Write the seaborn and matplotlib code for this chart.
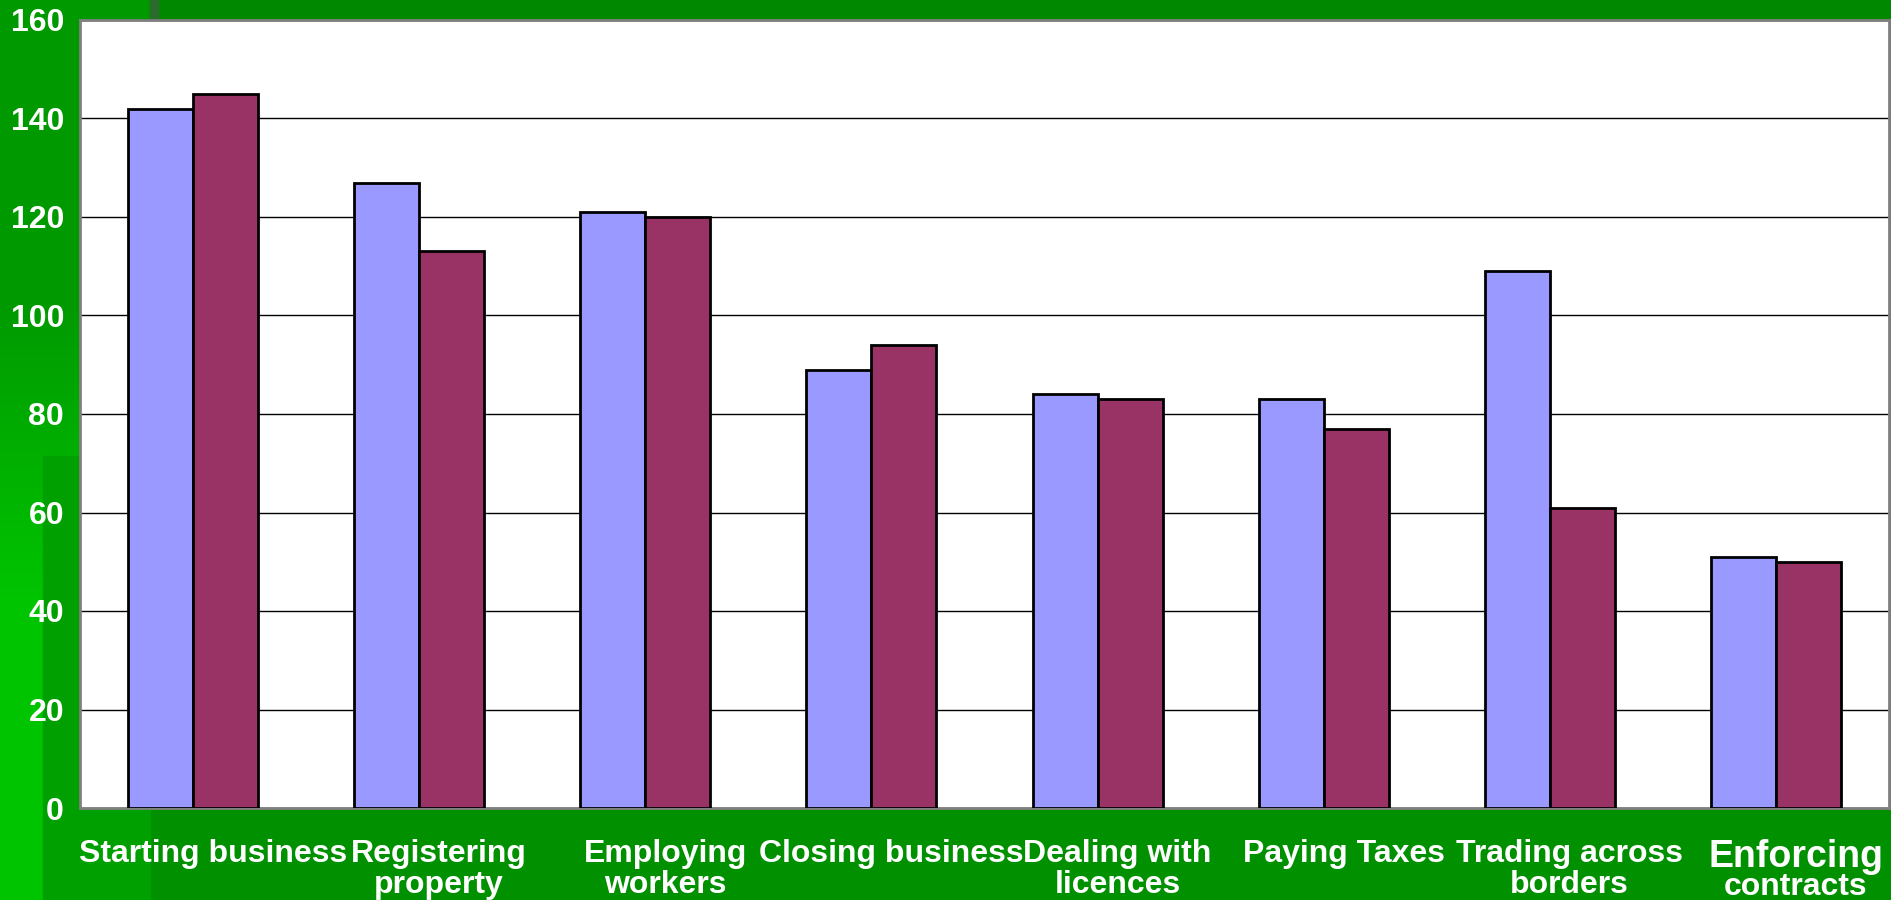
import numpy as np
import pandas as pd
import matplotlib
matplotlib.use("Agg")
import matplotlib.pyplot as plt
import matplotlib.transforms as mtransforms
from matplotlib.colors import LinearSegmentedColormap
from matplotlib.patches import Rectangle
import seaborn as sns

# values
categories = ["Starting business", "Registering\nproperty", "Employing\nworkers",
              "Closing business", "Dealing with\nlicences", "Paying Taxes",
              "Trading across\nborders", "Enforcing\ncontracts"]
series_1 = [142, 127, 121, 89, 84, 83, 109, 51]
series_2 = [145, 113, 120, 94, 83, 77, 61, 50]
series_names = ["Series 1", "Series 2"]
y_ticks = [0, 20, 40, 60, 80, 100, 120, 140, 160]

df = pd.DataFrame({
    "category": categories * 2,
    "value": series_1 + series_2,
    "series": [series_names[0]] * len(categories) + [series_names[1]] * len(categories),
})

sns.set_style("white")
plt.rcParams["font.family"] = ["Liberation Sans", "DejaVu Sans"]

W, H = 1891, 900
fig = plt.figure(figsize=(W / 100, H / 100), dpi=100)
fig.patch.set_facecolor("#009000")


def bg_rect(x0, y0, x1, y1, color):
    # pixel box (top-left origin) -> figure coords
    fig.patches.append(Rectangle((x0 / W, 1 - y1 / H), (x1 - x0) / W, (y1 - y0) / H,
                                 transform=fig.transFigure, color=color, zorder=-10))


# slide background: vertical gradient strip on the left
bg = fig.add_axes([0, 0, 150 / W, 1], zorder=-20)
grad_cmap = LinearSegmentedColormap.from_list("slide", ["#009900", "#009900", "#00c400", "#00c400"])
grad = np.linspace(0, 1, 300).reshape(-1, 1)
bg.imshow(grad, aspect="auto", cmap=grad_cmap, extent=[0, 1, 1, 0])
bg.axis("off")

bg_rect(150, 0, W, 20, "#008800")
bg_rect(150, 0, 158, 20, "#2b6b2b")
bg_rect(43, 456, 150, H, "#00a000")

ax = fig.add_axes([80 / W, 1 - 808 / H, (1889 - 80) / W, (808 - 20) / H])
ax.set_facecolor("white")

sns.barplot(data=df, x="category", y="value", hue="series", order=categories,
            palette=["#9999ff", "#993366"], saturation=1, width=0.575,
            edgecolor="black", linewidth=2, legend=False, ax=ax, zorder=3)

ax.set_xlim(-0.5, len(categories) - 0.5)
ax.set_ylim(0, 160)
ax.set_yticks(y_ticks)
ax.yaxis.grid(True, color="black", linewidth=1)
ax.set_axisbelow(True)
ax.set_xlabel("")
ax.set_ylabel("")

for side in ["top", "right", "bottom", "left"]:
    ax.spines[side].set_color("#808080")
    ax.spines[side].set_linewidth(2)

ax.tick_params(axis="y", which="major", length=6.5, width=1, color="black",
               direction="out", pad=5, labelsize=23, labelcolor="white")

# last label: first line is drawn larger in the original
tick_text = list(categories)
last_top, last_bottom = tick_text[-1].split("\n")
tick_text[-1] = last_top
ax.set_xticks(range(len(categories)))
ax.set_xticklabels(tick_text)
ax.set_xticks([i - 0.5 for i in range(len(categories) + 1)], minor=True)
ax.tick_params(axis="x", which="major", length=0, pad=22, labelsize=23, labelcolor="white")
ax.tick_params(axis="x", which="minor", length=6, width=1, color="black", direction="out")

for lbl in ax.get_yticklabels():
    lbl.set_fontweight("bold")
shift = mtransforms.ScaledTranslation(20 / 100, 0, fig.dpi_scale_trans)
for lbl in ax.get_xticklabels():
    lbl.set_fontweight("bold")
    lbl.set_linespacing(1.05)
    lbl.set_transform(lbl.get_transform() + shift)
ax.get_xticklabels()[-1].set_fontsize(27)

ax.annotate(last_bottom, xy=(len(categories) - 1, 0), xycoords=("data", "axes fraction"),
            xytext=(20 * 0.72, -87 * 0.72), textcoords="offset points",
            ha="center", va="baseline", color="white", fontsize=23, fontweight="bold",
            annotation_clip=False)

fig.savefig("out.png", dpi=100, facecolor=fig.get_facecolor())
